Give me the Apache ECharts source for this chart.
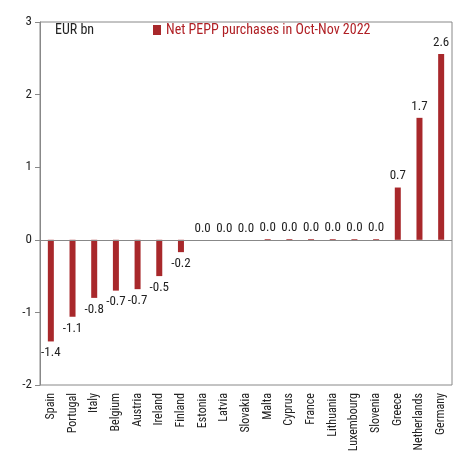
<!DOCTYPE html>
<html><head><meta charset="utf-8">
<script src="https://cdn.jsdelivr.net/npm/echarts@6/dist/echarts.min.js"></script>
<style>html,body{margin:0;padding:0;background:#fff}#c{width:464px;height:469px}</style>
</head><body><div id="c"></div>
<script>
const categories = ["Spain","Portugal","Italy","Belgium","Austria","Ireland","Finland","Estonia","Latvia","Slovakia","Malta","Cyprus","France","Lithuania","Luxembourg","Slovenia","Greece","Netherlands","Germany"];
const values = [-1.40,-1.06,-0.80,-0.70,-0.68,-0.50,-0.17,0.0,0.0,0.0,0.01,0.01,0.01,0.01,0.01,0.01,0.72,1.68,2.56];
const yTicks = [-2,-1,0,1,2,3];
const FONT = '"Liberation Sans Narrow","Roboto Condensed","Liberation Sans",sans-serif';
const chart = echarts.init(document.getElementById('c'));
chart.setOption({
  animation:false,
  textStyle:{fontFamily:FONT},
  grid:{left:40,right:12,top:22,bottom:84,show:true,borderColor:'#888',borderWidth:1},
  title:{text:'EUR bn',left:50,top:18,textStyle:{fontFamily:FONT,fontSize:14,fontWeight:'normal',color:'#222'}},
  legend:{left:148,top:18,itemWidth:8,itemHeight:10,icon:'rect',textStyle:{fontFamily:FONT,fontSize:14,color:'#b01f24'},data:['Net PEPP purchases in Oct-Nov 2022']},
  xAxis:{type:'category',data:categories,axisLine:{show:false},axisTick:{show:false},
    axisLabel:{rotate:90,interval:0,fontFamily:FONT,fontSize:12,color:'#222',margin:8}},
  yAxis:{type:'value',min:-2,max:3,interval:1,splitLine:{show:false},
    axisLine:{show:true,lineStyle:{color:'#888'}},axisTick:{show:true,lineStyle:{color:'#888'}},
    axisLabel:{fontFamily:FONT,fontSize:13,color:'#222',formatter:v=>yTicks.includes(v)?String(v):''}},
  series:[{name:'Net PEPP purchases in Oct-Nov 2022',type:'bar',barWidth:6,
    data:values.map(v=>({value:v,label:{position:v<0?'bottom':'top'}})),
    itemStyle:{color:'#a8282b'},
    label:{show:true,fontFamily:FONT,fontSize:13,color:'#222',formatter:p=>p.value.toFixed(1)},
    markLine:{silent:true,symbol:'none',label:{show:false},lineStyle:{color:'#888',type:'solid',width:1},data:[{yAxis:0}]}
  }]
});
</script></body></html>
